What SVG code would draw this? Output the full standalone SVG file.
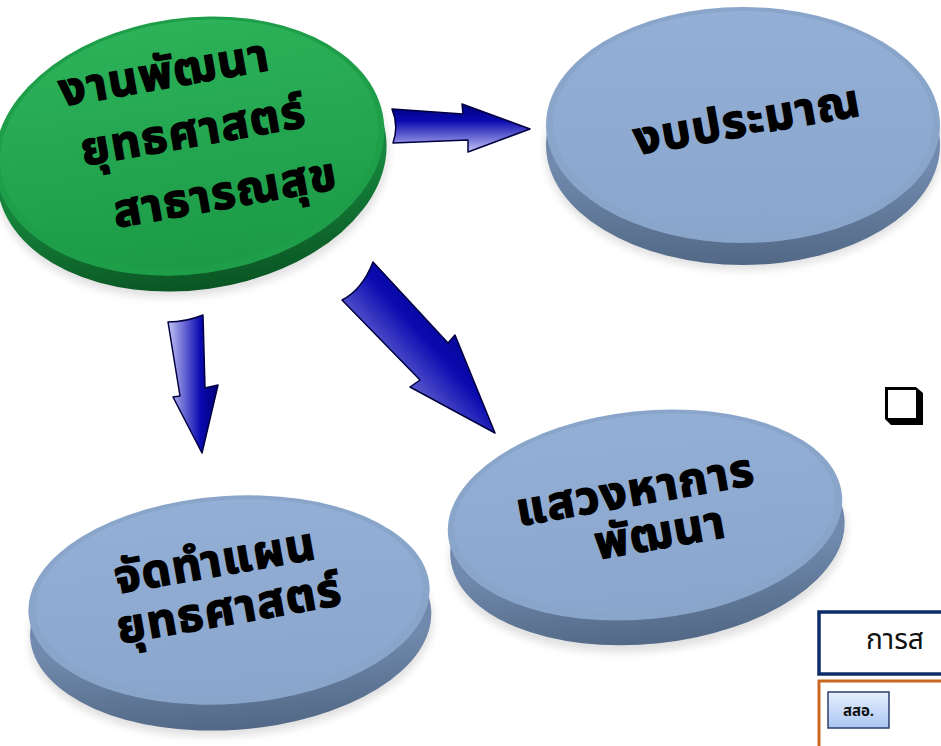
<svg xmlns="http://www.w3.org/2000/svg" width="941" height="746" viewBox="0 0 941 746">
<defs>
<style>
.lbl{font-family:"Noto Sans Thai","Noto Sans","DejaVu Sans",sans-serif;font-weight:bold;font-size:46px;letter-spacing:1.5px;fill:#000;stroke:#000;stroke-width:1.5;text-anchor:middle}
.arrow{stroke:#000040;stroke-width:1.5;stroke-linejoin:round}
</style>
<linearGradient id="gTop" x1="0" y1="0" x2="0" y2="1">
<stop offset="0" stop-color="#2cb259"/><stop offset="1" stop-color="#1c9a47"/>
</linearGradient>
<linearGradient id="gSide" x1="0" y1="0" x2="0" y2="1">
<stop offset="0.6" stop-color="#16843c"/><stop offset="1" stop-color="#0a5523"/>
</linearGradient>
<linearGradient id="bTop" x1="0" y1="0" x2="0" y2="1">
<stop offset="0" stop-color="#93afd5"/><stop offset="1" stop-color="#8aa6cc"/>
</linearGradient>
<linearGradient id="bSide" x1="0" y1="0" x2="0" y2="1">
<stop offset="0.6" stop-color="#7089ac"/><stop offset="1" stop-color="#526886"/>
</linearGradient>
<linearGradient id="aRight" x1="0" y1="0" x2="0" y2="1">
<stop offset="0" stop-color="#00007a"/><stop offset="0.35" stop-color="#0a0ab0"/><stop offset="1" stop-color="#c4c4f6"/>
</linearGradient>
<linearGradient id="aDown" x1="1" y1="0" x2="0" y2="0">
<stop offset="0" stop-color="#00007a"/><stop offset="0.35" stop-color="#0a0ab0"/><stop offset="1" stop-color="#c4c4f6"/>
</linearGradient>
<linearGradient id="aDiag" x1="1" y1="0" x2="0" y2="1">
<stop offset="0.2" stop-color="#00007a"/><stop offset="0.45" stop-color="#0a0ab0"/><stop offset="0.9" stop-color="#c4c4f6"/>
</linearGradient>
<linearGradient id="btn" x1="0" y1="0" x2="0" y2="1">
<stop offset="0" stop-color="#e8f0fe"/><stop offset="1" stop-color="#a9c6f2"/>
</linearGradient>
<filter id="soft" x="-10%" y="-10%" width="120%" height="130%">
<feGaussianBlur stdDeviation="4"/>
</filter>
</defs>

<g id="connectors">
<path class="arrow" fill="url(#aRight)" d="M392,109 L463,114 L462,104 L530,129 L468,152 L468,140 L393,143 Q399,126 392,109 Z"/>
<path class="arrow" fill="url(#aDown)" d="M168,322 Q186,322 203,315 L205,388 L218,385 L202,453 L173,397 L180,396 Z"/>
<path class="arrow" fill="url(#aDiag)" d="M373,262 L448,343 L455,335 L495,433 L410,387 L420,380 L342,300 Q362,290 373,262 Z"/>
</g>

<g id="n1">
<g transform="rotate(-8 190 150)">
<ellipse cx="190" cy="168" rx="197" ry="128" fill="#000" opacity="0.12" filter="url(#soft)"/>
<ellipse cx="190" cy="162" rx="196" ry="128" fill="url(#gSide)"/>
<ellipse cx="190" cy="146" rx="196" ry="128" fill="#1f9e4a"/>
<ellipse cx="190" cy="144" rx="190" ry="123" fill="url(#gTop)"/>
</g>
<text class="lbl" transform="rotate(-10 167 88)" x="167" y="88">งานพัฒนา</text>
<text class="lbl" transform="rotate(-10 196 146)" x="196" y="146">ยุทธศาสตร์</text>
<text class="lbl" transform="rotate(-10 228 208)" x="228" y="208">สาธารณสุข</text>
</g>

<g id="n2">
<ellipse cx="743" cy="150" rx="198" ry="120" fill="#000" opacity="0.12" filter="url(#soft)"/>
<ellipse cx="743" cy="145" rx="197" ry="120" fill="url(#bSide)"/>
<ellipse cx="743" cy="125" rx="197" ry="118" fill="#8aa5ca"/>
<ellipse cx="743" cy="123" rx="190" ry="112" fill="url(#bTop)"/>
<text class="lbl" transform="rotate(-10 750 135)" x="750" y="135">งบประมาณ</text>
</g>

<g id="n3">
<g transform="rotate(-4 229 600)">
<ellipse cx="229" cy="630" rx="202" ry="106" fill="#000" opacity="0.12" filter="url(#soft)"/>
<ellipse cx="229" cy="624" rx="201" ry="106" fill="url(#bSide)"/>
<ellipse cx="229" cy="600" rx="201" ry="104" fill="#8aa5ca"/>
<ellipse cx="229" cy="598" rx="194" ry="98" fill="url(#bTop)"/>
</g>
<text class="lbl" transform="rotate(-10 218 576)" x="218" y="576">จัดทำแผน</text>
<text class="lbl" transform="rotate(-10 232 624)" x="232" y="624">ยุทธศาสตร์</text>
</g>

<g id="n4">
<g transform="rotate(-6 645 515)">
<ellipse cx="645" cy="545" rx="199" ry="106" fill="#000" opacity="0.12" filter="url(#soft)"/>
<ellipse cx="645" cy="538" rx="198" ry="106" fill="url(#bSide)"/>
<ellipse cx="645" cy="515" rx="198" ry="104" fill="#8aa5ca"/>
<ellipse cx="645" cy="513" rx="191" ry="98" fill="url(#bTop)"/>
</g>
<text class="lbl" transform="rotate(-10 638 505)" x="638" y="505">แสวงหาการ</text>
<text class="lbl" transform="rotate(-10 663 548)" x="663" y="548">พัฒนา</text>
</g>

<g id="checkbox">
<polygon points="885,387 916,387 923,393 923,425 891,425 885,419" fill="#000"/>
<rect x="888" y="390" width="28" height="28" fill="#fff"/>
</g>

<g id="box1">
<rect x="819" y="612" width="140" height="62" fill="#fff" stroke="#0c2d69" stroke-width="3.5"/>
<text x="866" y="649" font-family="'Noto Sans Thai','Noto Sans','DejaVu Sans',sans-serif" font-size="28" fill="#111">การส</text>
</g>

<g id="box2">
<rect x="819" y="681" width="140" height="80" fill="#fff" stroke="#c8661e" stroke-width="3"/>
<rect x="828" y="692" width="61" height="36" fill="url(#btn)" stroke="#2d3e6b" stroke-width="1.5"/>
<text x="858.5" y="716" text-anchor="middle" font-family="'Noto Sans Thai','Noto Sans','DejaVu Sans',sans-serif" font-size="15" font-weight="bold" fill="#111">สสอ.</text>
</g>
</svg>
